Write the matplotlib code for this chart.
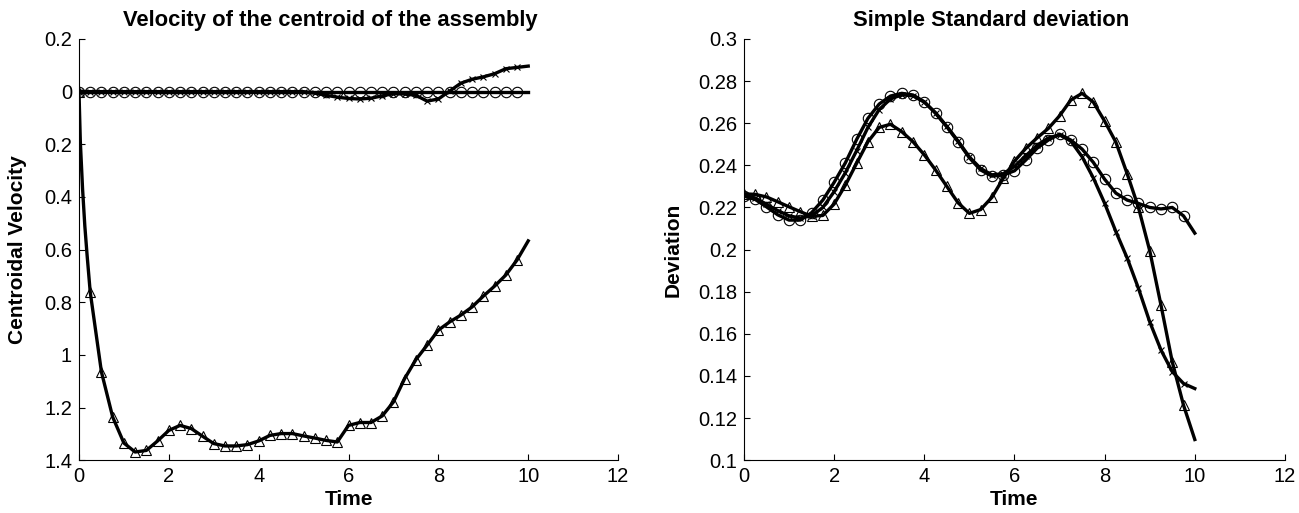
import numpy as np
import matplotlib.pyplot as plt

plt.rcParams['font.family'] = ['Liberation Sans', 'DejaVu Sans']

# common time grid (markers every 0.25 s)
time = np.arange(0, 10.001, 0.25)

# --- left panel: velocity of the centroid ---
# steep start of the triangle curve, read between t=0 and t=0.25
vel_tri_start_t = [0.03, 0.08, 0.13, 0.18]
vel_tri_start = [-0.19, -0.37, -0.51, -0.62]

vel_tri = [0.0, -0.761, -1.065, -1.236, -1.335, -1.369, -1.363, -1.327, -1.287, -1.268,
           -1.280, -1.309, -1.337, -1.346, -1.346, -1.341, -1.327, -1.306, -1.299, -1.299,
           -1.308, -1.316, -1.325, -1.331, -1.268, -1.257, -1.257, -1.232, -1.179, -1.090,
           -1.018, -0.963, -0.906, -0.875, -0.849, -0.818, -0.777, -0.739, -0.697, -0.640,
           -0.567]
vel_circ = [0.0] * 41
vel_x = [0.0] * 21 + [-0.006, -0.014, -0.021, -0.026, -0.028, -0.025, -0.016, -0.008, -0.009,
                      -0.014, -0.036, -0.028, 0.002, 0.032, 0.047, 0.056, 0.068, 0.087, 0.092,
                      0.097]

vel_ticks = [0.2, 0, -0.2, -0.4, -0.6, -0.8, -1.0, -1.2, -1.4]
vel_ticklabels = ['0.2', '0', '0.2', '0.4', '0.6', '0.8', '1', '1.2', '1.4']

# --- right panel: standard deviation ---
dev_circ = [0.2254, 0.2238, 0.2203, 0.2165, 0.2140, 0.2140, 0.2175, 0.2235, 0.2319, 0.2412,
            0.2523, 0.2623, 0.2691, 0.2729, 0.2742, 0.2734, 0.2702, 0.2647, 0.2583, 0.2512,
            0.2436, 0.2378, 0.2349, 0.2354, 0.2374, 0.2425, 0.2481, 0.2520, 0.2548, 0.2520,
            0.2477, 0.2414, 0.2334, 0.2268, 0.2235, 0.2219, 0.2200, 0.2193, 0.2200, 0.2160,
            0.2078]
dev_tri = [0.2265, 0.2262, 0.2250, 0.2227, 0.2203, 0.2180, 0.2158, 0.2162, 0.2216, 0.2306,
           0.2410, 0.2512, 0.2580, 0.2595, 0.2560, 0.2512, 0.2450, 0.2378, 0.2300, 0.2222,
           0.2172, 0.2190, 0.2248, 0.2338, 0.2420, 0.2480, 0.2530, 0.2575, 0.2635, 0.2710,
           0.2742, 0.2700, 0.2610, 0.2510, 0.2360, 0.2200, 0.1995, 0.1736, 0.1467, 0.1261,
           0.1098]
dev_x = [0.2258, 0.2245, 0.2215, 0.2185, 0.2160, 0.2150, 0.2160, 0.2200, 0.2275, 0.2365,
         0.2470, 0.2580, 0.2665, 0.2715, 0.2735, 0.2730, 0.2700, 0.2650, 0.2585, 0.2515,
         0.2440, 0.2385, 0.2355, 0.2360, 0.2395, 0.2445, 0.2495, 0.2530, 0.2545, 0.2515,
         0.2441, 0.2340, 0.2220, 0.2085, 0.1960, 0.1816, 0.1657, 0.1523, 0.1420, 0.1364,
         0.1340]

dev_ticks = [0.1, 0.12, 0.14, 0.16, 0.18, 0.2, 0.22, 0.24, 0.26, 0.28, 0.3]
time_ticks = [0, 2, 4, 6, 8, 10, 12]


def draw_series(ax, t, y, marker, ms, line_t=None, line_y=None):
    # thick line, open markers on every grid point except the last one
    lt = t if line_t is None else line_t
    ly = y if line_y is None else line_y
    ax.plot(lt, ly, color='black', lw=2.4, zorder=2)
    ax.plot(t[:-1], y[:-1], ls='none', marker=marker, ms=ms, mfc='none',
            mec='black', mew=0.8, zorder=3)


def style_axes(ax):
    ax.spines['top'].set_visible(False)
    ax.spines['right'].set_visible(False)
    for s in ('left', 'bottom'):
        ax.spines[s].set_linewidth(0.8)
    ax.tick_params(direction='in', length=4, width=0.8, labelsize=14.5, pad=5)
    ax.set_xlim(0, 12)
    ax.set_xticks(time_ticks)
    ax.set_xticklabels([str(v) for v in time_ticks])
    ax.set_xlabel('Time', fontsize=15, fontweight='bold')
    ax.xaxis.set_label_coords(0.5, -0.07)


fig = plt.figure(figsize=(12.99, 5.13), dpi=100)
ax1 = fig.add_axes([0.0608, 0.103, 0.415, 0.821])
ax2 = fig.add_axes([0.5727, 0.103, 0.4165, 0.821])

# left panel
t = np.asarray(time)
tri_line_t = np.concatenate([[0.0], vel_tri_start_t, t[1:]])
tri_line_y = np.concatenate([[vel_tri[0]], vel_tri_start, vel_tri[1:]])
draw_series(ax1, t, np.asarray(vel_circ), 'o', 7.5)
draw_series(ax1, t, np.asarray(vel_x), 'x', 4)
draw_series(ax1, t, np.asarray(vel_tri), '^', 7.5, tri_line_t, tri_line_y)
style_axes(ax1)
ax1.set_ylim(-1.4, 0.2)
ax1.set_yticks(vel_ticks)
ax1.set_yticklabels(vel_ticklabels)
ax1.set_ylabel('Centroidal Velocity', fontsize=15, fontweight='bold')
ax1.yaxis.set_label_coords(-0.097, 0.5)
ax1.set_title('Velocity of the centroid of the assembly', fontsize=15.8,
              fontweight='bold', pad=9, x=0.467)

# right panel
draw_series(ax2, t, np.asarray(dev_circ), 'o', 7.5)
draw_series(ax2, t, np.asarray(dev_x), 'x', 4)
draw_series(ax2, t, np.asarray(dev_tri), '^', 7.5)
style_axes(ax2)
ax2.set_ylim(0.1, 0.3)
ax2.set_yticks(dev_ticks)
ax2.set_yticklabels(['%g' % v for v in dev_ticks])
ax2.set_ylabel('Deviation', fontsize=15, fontweight='bold')
ax2.yaxis.set_label_coords(-0.113, 0.5)
ax2.set_title('Simple Standard deviation', fontsize=15.8, fontweight='bold',
              pad=9, x=0.456)

fig.savefig('out.png', dpi=100)
